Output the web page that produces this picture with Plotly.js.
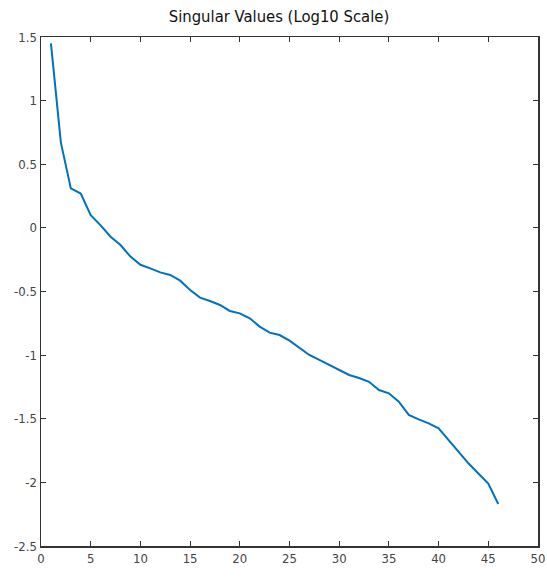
<!DOCTYPE html>
<html>
<head>
<meta charset="utf-8">
<script src="https://cdn.plot.ly/plotly-3.0.1.min.js"></script>
<style>html,body{margin:0;padding:0;background:#fff;}#chart{width:547px;height:581px;}</style>
</head>
<body>
<div id="chart"></div>
<script>
const indices = [1,2,3,4,5,6,7,8,9,10,11,12,13,14,15,16,17,18,19,20,21,22,23,24,25,26,27,28,29,30,31,32,33,34,35,36,37,38,39,40,41,42,43,44,45,46];
const logSingularValues = [1.45,0.67,0.31,0.27,0.10,0.02,-0.07,-0.135,-0.226,-0.29,-0.318,-0.35,-0.37,-0.415,-0.488,-0.548,-0.575,-0.606,-0.653,-0.672,-0.711,-0.776,-0.823,-0.842,-0.886,-0.946,-0.999,-1.038,-1.077,-1.115,-1.156,-1.18,-1.21,-1.274,-1.30,-1.366,-1.47,-1.505,-1.536,-1.575,-1.667,-1.758,-1.85,-1.93,-2.01,-2.17];
const xTickVals = [0,5,10,15,20,25,30,35,40,45,50];
const xTickText = ["0","5","10","15","20","25","30","35","40","45","50"];
const yTickVals = [1.5,1,0.5,0,-0.5,-1,-1.5,-2,-2.5];
const yTickText = ["1.5","1","0.5","0","-0.5","-1","-1.5","-2","-2.5"];
const titleText = "Singular Values (Log10 Scale)";

const font = "Liberation Sans Narrow, Arial Narrow, DejaVu Sans Condensed, sans-serif";

Plotly.newPlot("chart", [{
  x: indices, y: logSingularValues, type: "scatter", mode: "lines",
  line: {color: "#0072BD", width: 2}, hoverinfo: "skip"
}], {
  width: 547, height: 581,
  margin: {l: 41, r: 9, t: 37, b: 35},
  paper_bgcolor: "#fff", plot_bgcolor: "#fff",
  showlegend: false,
  title: {text: titleText, font: {family: font, size: 16.5, color: "#111"}, x: 0.51, xanchor: "center", y: 0.972, yanchor: "middle"},
  xaxis: {range: [0, 50], tickvals: xTickVals, ticktext: xTickText, ticks: "inside", ticklen: 5, tickcolor: "#333",
    showline: true, linecolor: "#333", linewidth: 1.5, mirror: "ticks", showgrid: false, zeroline: false,
    tickfont: {family: font, size: 13, color: "#444"}},
  yaxis: {range: [-2.5, 1.5], tickvals: yTickVals, ticktext: yTickText, ticks: "inside", ticklen: 5, tickcolor: "#333",
    showline: true, linecolor: "#333", linewidth: 1.5, mirror: "ticks", showgrid: false, zeroline: false,
    tickfont: {family: font, size: 13, color: "#444"}}
}, {staticPlot: true});
</script>
</body>
</html>
